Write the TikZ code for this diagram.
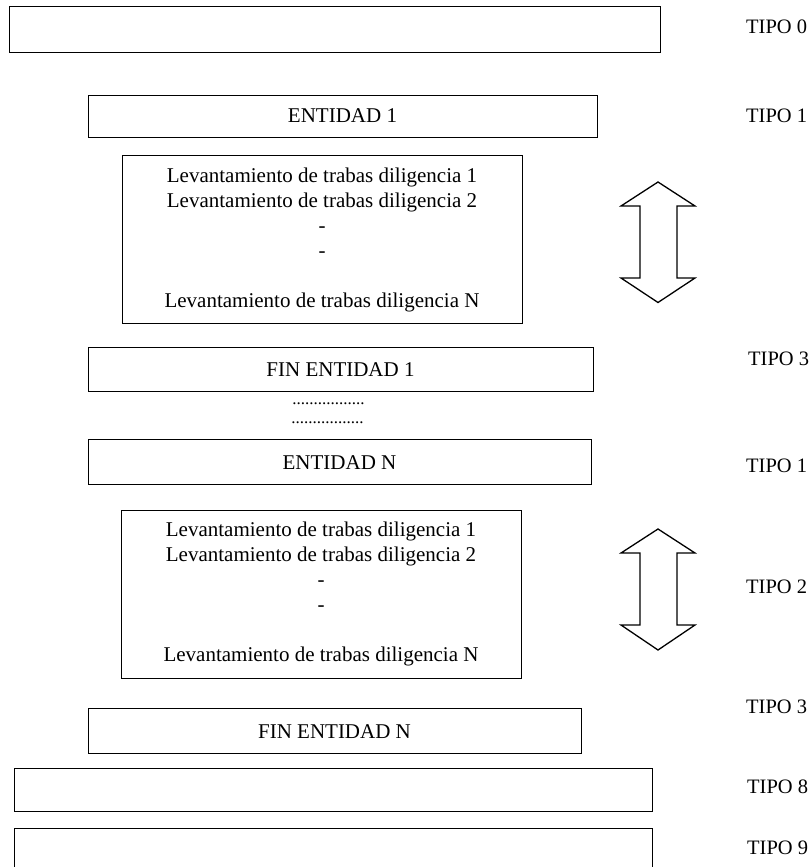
\documentclass[tikz,border=0pt]{standalone}
\usepackage{fontspec}
\setmainfont{Liberation Serif}
\begin{document}
\begin{tikzpicture}[x=1pt,y=-1pt,
  rec/.style={draw,line width=1.3pt,inner sep=0pt,anchor=north west,font=\fontsize{21}{25}\selectfont},
  txt/.style={inner sep=0pt,font=\fontsize{21}{25}\selectfont,align=center},
  tipo/.style={inner sep=0pt,anchor=west,font=\fontsize{20.5}{24}\selectfont},
  dots/.style={inner sep=0pt,font=\fontsize{17}{20}\selectfont},
  darrow/.style={draw,line width=1.3pt,line join=miter,fill=white}]
\useasboundingbox (0,0) rectangle (810,867);
% boxes
\node[rec,minimum width=651pt,minimum height=46pt] (t0) at (9,6) {};
\node[rec,minimum width=509pt,minimum height=42pt] (e1) at (88,95) {};
\node[txt] (e1t) at (342.5,116) {ENTIDAD 1};
\node[rec,minimum width=400pt,minimum height=168pt] (l1) at (122,155) {};
\node[txt,anchor=north] (l1t) at (322,168) {Levantamiento de trabas diligencia 1\\Levantamiento de trabas diligencia 2\\-\\-\\[25pt]Levantamiento de trabas diligencia N};
\node[rec,minimum width=505pt,minimum height=44pt] (f1) at (88,347) {};
\node[txt] (f1t) at (340.5,370) {FIN ENTIDAD 1};
\node[dots] (d1) at (328.5,404) {.................};
\node[dots] (d2) at (327.5,423) {.................};
\node[rec,minimum width=503pt,minimum height=45pt] (en) at (88,439) {};
\node[txt] (ent) at (339.5,463) {ENTIDAD N};
\node[rec,minimum width=400pt,minimum height=168pt] (l2) at (121,510) {};
\node[txt,anchor=north] (l2t) at (321,522) {Levantamiento de trabas diligencia 1\\Levantamiento de trabas diligencia 2\\-\\-\\[25pt]Levantamiento de trabas diligencia N};
\node[rec,minimum width=493pt,minimum height=45pt] (fn) at (88,708) {};
\node[txt] (fnt) at (334.5,732) {FIN ENTIDAD N};
\node[rec,minimum width=638pt,minimum height=43pt] (t8) at (14,768) {};
\node[rec,minimum width=638pt,minimum height=50pt] (t9) at (14,828) {};
% double arrows
\draw[darrow] (658,182) -- (695,206) -- (677,206) -- (677,278) -- (695,278) -- (658,302.5)
  -- (621,278) -- (640,278) -- (640,206) -- (621,206) -- cycle;
\draw[darrow] (658,529) -- (695,553) -- (677,553) -- (677,625) -- (695,625) -- (658,650)
  -- (621,625) -- (640,625) -- (640,553) -- (621,553) -- cycle;
% labels
\node[tipo] (k0) at (746,27) {TIPO 0};
\node[tipo] (k1) at (746,116) {TIPO 1};
\node[tipo] (k3) at (748,359) {TIPO 3};
\node[tipo] (k1b) at (746,466) {TIPO 1};
\node[tipo] (k2) at (746,587) {TIPO 2};
\node[tipo] (k3b) at (746,707) {TIPO 3};
\node[tipo] (k8) at (747,787) {TIPO 8};
\node[tipo] (k9) at (747,848) {TIPO 9};
\end{tikzpicture}
\end{document}
